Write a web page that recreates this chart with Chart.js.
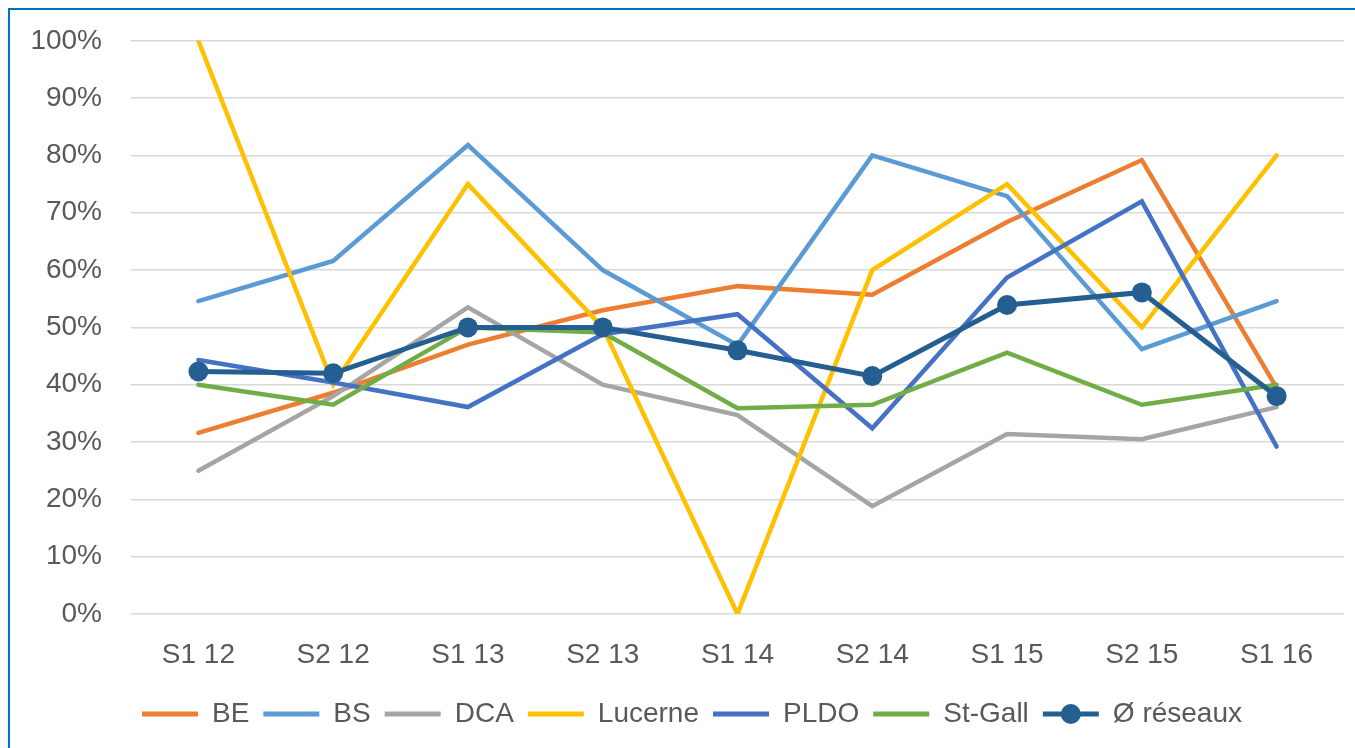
<!DOCTYPE html>
<html>
<head>
<meta charset="utf-8">
<script src="https://cdn.jsdelivr.net/npm/chart.js@4.4.1/dist/chart.umd.min.js"></script>
<style>
  body { margin: 0; background: #fff; }
  #wrap { position: relative; width: 1355px; height: 748px; overflow: hidden; }
  #frame { position: absolute; left: 8px; top: 8px; width: 2000px; height: 2000px;
           border-top: 2px solid #0070c0; border-left: 2px solid #0070c0; pointer-events: none; }
</style>
</head>
<body>
<div id="wrap">
  <canvas id="myChart" width="1355" height="748"></canvas>
  <div id="frame"></div>
</div>
<script>
// semesters
const labels = ['S1 12', 'S2 12', 'S1 13', 'S2 13', 'S1 14', 'S2 14', 'S1 15', 'S2 15', 'S1 16'];

// values in %
const be      = [31.6, 38.6, 47.0, 53.0, 57.2, 55.7, 68.4, 79.2, 39.5];
const bs      = [54.6, 61.6, 81.8, 60.0, 46.9, 80.0, 72.9, 46.2, 54.6];
const dca     = [25.0, 38.0, 53.5, 40.0, 34.7, 18.8, 31.4, 30.5, 36.1];
const lucerne = [100, 40, 75, 50, 0, 60, 75, 50, 80];
const pldo    = [44.3, 40.4, 36.1, 48.8, 52.3, 32.4, 58.7, 72.0, 29.2];
const stgall  = [40.0, 36.5, 50.0, 49.1, 35.9, 36.5, 45.6, 36.5, 40.0];
const avg     = [42.3, 42.0, 50.0, 50.0, 46.0, 41.5, 53.9, 56.1, 38.0];

const yTicks = [0, 10, 20, 30, 40, 50, 60, 70, 80, 90, 100];

const font = { family: '"Liberation Sans", Arial, sans-serif', size: 28 };
const textColor = '#595959';
const avgColor = '#255e91';

function line(label, data, color, order) {
  return {
    label: label,
    data: data,
    borderColor: color,
    backgroundColor: color,
    borderWidth: 4.5,
    borderCapStyle: 'round',
    pointRadius: 0,
    pointHoverRadius: 0,
    tension: 0,
    order: order
  };
}

const datasets = [
  line('BE', be, '#ed7d31', 7),
  line('BS', bs, '#5b9bd5', 6),
  line('DCA', dca, '#a5a5a5', 5),
  line('Lucerne', lucerne, '#ffc000', 4),
  line('PLDO', pldo, '#4472c4', 3),
  line('St-Gall', stgall, '#70ad47', 2),
  Object.assign(line('Ø réseaux', avg, avgColor, 1), { borderWidth: 5, pointRadius: 10, pointBorderWidth: 0 })
];

// legend a bit right of centre, and a dot on the average series' legend line
const legendTweaks = {
  id: 'legendTweaks',
  afterLayout(chart) {
    chart.legend.left = 40;
  },
  afterDraw(chart) {
    const legend = chart.legend;
    const idx = legend.legendItems.findIndex(it => it.datasetIndex === 6);
    const box = legend.legendHitBoxes[idx];
    if (!box) return;
    const ctx = chart.ctx;
    ctx.save();
    ctx.fillStyle = avgColor;
    ctx.beginPath();
    ctx.arc(box.left + 28, box.top + box.height / 2, 10, 0, Math.PI * 2);
    ctx.fill();
    ctx.restore();
  }
};

new Chart(document.getElementById('myChart'), {
  type: 'line',
  data: { labels: labels, datasets: datasets },
  plugins: [legendTweaks],
  options: {
    responsive: false,
    animation: false,
    layout: { padding: { top: 35, right: 11, left: 0, bottom: 10 } },
    plugins: {
      tooltip: { enabled: false },
      legend: {
        position: 'bottom',
        labels: {
          font: font,
          color: textColor,
          boxWidth: 56,
          boxHeight: 5,
          padding: 14,
          sort: (a, b) => a.datasetIndex - b.datasetIndex,
          generateLabels(chart) {
            return Chart.defaults.plugins.legend.labels.generateLabels(chart)
              .map(l => Object.assign(l, { fillStyle: l.strokeStyle, lineWidth: 0 }));
          }
        }
      }
    },
    scales: {
      x: {
        offset: true,
        grid: { display: false },
        border: { display: false },
        ticks: { font: font, color: textColor, padding: 16, maxRotation: 0 },
        afterFit(scale) { scale.height = 72; }
      },
      y: {
        min: 0,
        max: 100,
        afterBuildTicks(scale) { scale.ticks = yTicks.map(v => ({ value: v })); },
        grid: { color: '#d9d9d9', lineWidth: 1.5, drawTicks: true, tickLength: 5, tickColor: 'rgba(0,0,0,0)' },
        border: { display: false },
        ticks: { font: font, color: textColor, padding: 24, callback: v => v + '%' },
        afterFit(scale) { scale.width = 131; }
      }
    }
  }
});
</script>
</body>
</html>
